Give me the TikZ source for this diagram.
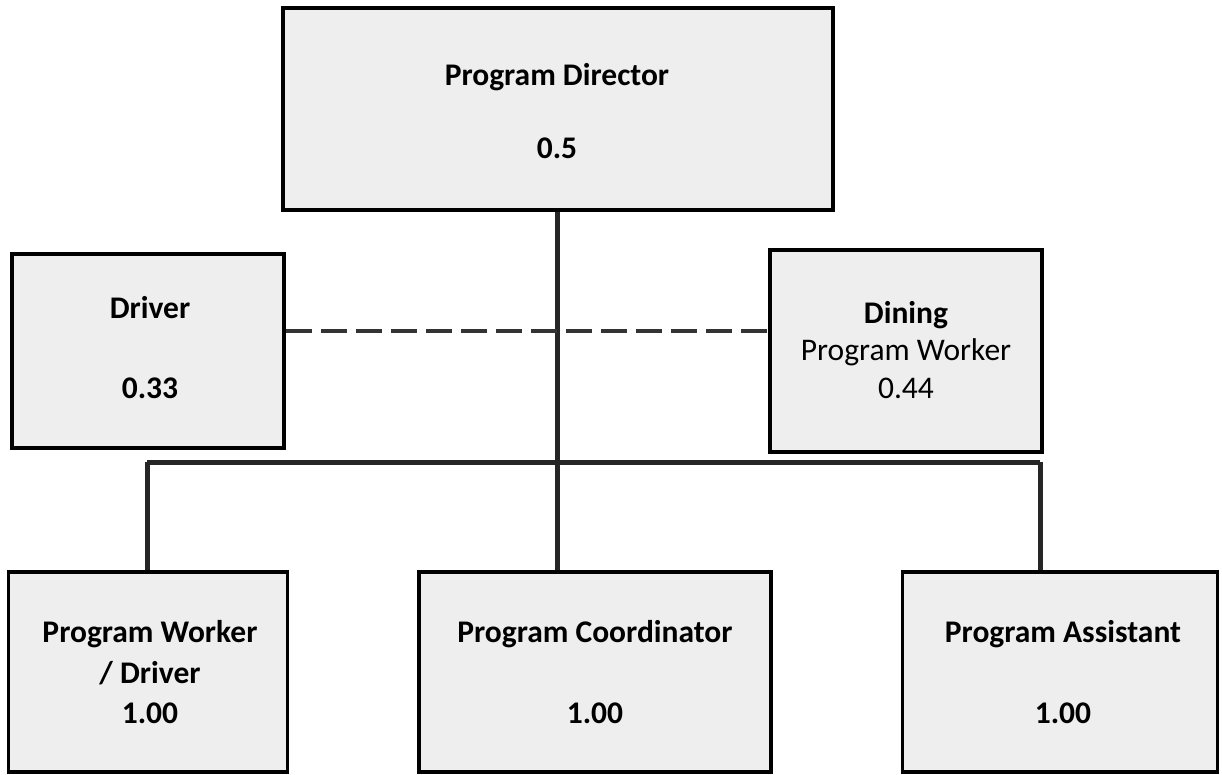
\documentclass[tikz,border=0pt]{standalone}
\usepackage{fontspec}
\setmainfont{Carlito}
\begin{document}
\begin{tikzpicture}[x=1pt,y=-1pt,
  box/.style={draw=black,line width=3.5pt,fill=gray!13,inner sep=0pt},
  lbl/.style={anchor=base,inner sep=0pt,font=\fontsize{31.5}{38}\selectfont\bfseries},
  lblr/.style={anchor=base,inner sep=0pt,font=\fontsize{31.5}{38}\selectfont},
  conn/.style={line width=5pt,draw=black!85},
  dashconn/.style={line width=4pt,draw=black!80,dash pattern=on 26pt off 9pt}]
\useasboundingbox (0,0) rectangle (1222,774);
% boxes
\node[box,minimum width=550,minimum height=202] (dir) at (558,109) {};
\node[box,minimum width=272,minimum height=194] (drv) at (148,351) {};
\node[box,minimum width=272,minimum height=202] (din) at (906,351) {};
\node[box,minimum width=279,minimum height=200] (pwd) at (148,672) {};
\node[box,minimum width=352,minimum height=200] (pco) at (595,672) {};
\node[box,minimum width=315,minimum height=200] (pas) at (1060,672) {};
% texts
\node[lbl] (t1) at (557,85) {Program Director};
\node[lbl] (t2) at (557,158) {0.5};
\node[lbl] (t3) at (150,318) {Driver};
\node[lbl] (t4) at (150,398) {0.33};
\node[lbl] (t5) at (906,323) {Dining};
\node[lblr] (t6) at (906,360) {Program Worker};
\node[lblr] (t7) at (906,398) {0.44};
\node[lbl] (t8) at (150,642) {Program Worker};
\node[lbl] (t9) at (150,683) {/ Driver};
\node[lbl] (t10) at (150,723) {1.00};
\node[lbl] (t11) at (595,642) {Program Coordinator};
\node[lbl] (t12) at (595,723) {1.00};
\node[lbl] (t13) at (1063,642) {Program Assistant};
\node[lbl] (t14) at (1063,723) {1.00};
% connectors
\coordinate (j) at (557,462);
\coordinate (jl) at (147,462);
\coordinate (jr) at (1040,462);
\draw[conn] (dir.south -| j) -- (j);
\draw[conn] (jl) -- (jr);
\draw[conn] (jl) -- (jl |- pwd.north);
\draw[conn] (j) -- (j |- pco.north);
\draw[conn] (jr) -- (jr |- pas.north);
\coordinate (dl) at (drv.east |- 0,331);
\coordinate (dr) at (din.west |- 0,331);
\draw[dashconn] (dl) -- (dr);
\end{tikzpicture}
\end{document}
